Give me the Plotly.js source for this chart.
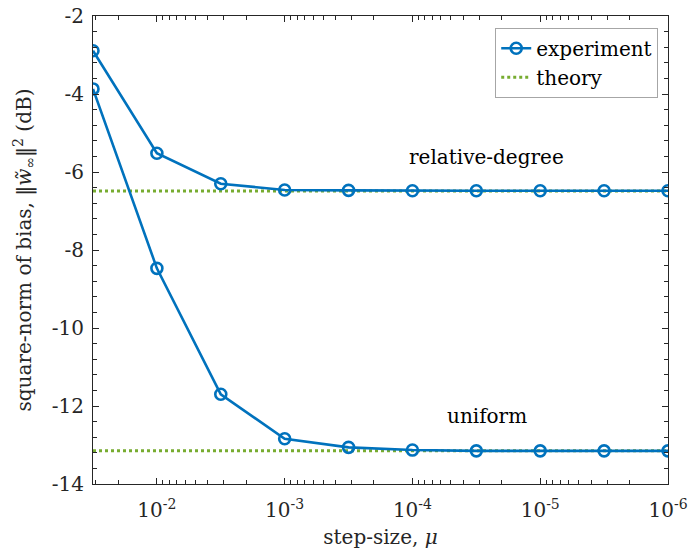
<!DOCTYPE html>
<html>
<head>
<meta charset="utf-8">
<script src="https://cdn.plot.ly/plotly-3.0.1.min.js"></script>
<style>html,body{margin:0;padding:0;background:#fff;}#plot{width:694px;height:560px;}</style>
</head>
<body>
<div id="plot"></div>
<script>
// step sizes (mu)
var mu = [Math.pow(10,-1.5), 1e-2, Math.pow(10,-2.5), 1e-3, Math.pow(10,-3.5), 1e-4, Math.pow(10,-4.5), 1e-5, Math.pow(10,-5.5), 1e-6];
// experiment: relative-degree
var expRelDeg = [-2.89, -5.52, -6.30, -6.46, -6.47, -6.48, -6.48, -6.48, -6.48, -6.48];
// experiment: uniform
var expUniform = [-3.87, -8.47, -11.70, -12.84, -13.06, -13.13, -13.15, -13.15, -13.15, -13.15];
// theory levels
var theoryRelDeg = -6.49;
var theoryUniform = -13.15;
// ticks
var xTickVals = [1e-2, 1e-3, 1e-4, 1e-5, 1e-6];
var xTickText = ['10<sup>-2</sup>', '10<sup>-3</sup>', '10<sup>-4</sup>', '10<sup>-5</sup>', '10<sup>-6</sup>'];
var xMinorMant = [2, 3, 4, 5, 6, 7, 8, 9];
var xMinorDecades = [1e-2, 1e-3, 1e-4, 1e-5, 1e-6];
var yTickVals = [-2, -4, -6, -8, -10, -12, -14];
var yTickText = ['-2', '-4', '-6', '-8', '-10', '-12', '-14'];
var labels = {rel: 'relative-degree', uni: 'uniform', exp: 'experiment', th: 'theory'};

var xMinorVals = [];
xMinorDecades.forEach(function(d){ xMinorMant.forEach(function(m){ xMinorVals.push(m*d); }); });

var blue = '#0072BD', green = '#77AC30';
var font = "'DejaVu Serif', serif";

var expStyle = {
  mode: 'lines+markers',
  line: {color: blue, width: 2.6},
  marker: {symbol: 'circle-open', size: 11, color: blue, line: {width: 2.6, color: blue}}
};
var thStyle = {mode: 'lines', line: {color: green, width: 3, dash: 'dot'}};

var traces = [
  Object.assign({x: mu, y: mu.map(function(){return theoryRelDeg;}), name: labels.th, showlegend: true, legendrank: 2}, thStyle),
  Object.assign({x: mu, y: mu.map(function(){return theoryUniform;}), name: labels.th, showlegend: false}, thStyle),
  Object.assign({x: mu, y: expRelDeg, name: labels.exp, showlegend: true, legendrank: 1}, expStyle),
  Object.assign({x: mu, y: expUniform, name: labels.exp, showlegend: false}, expStyle)
];

var layout = {
  width: 694, height: 560,
  margin: {l: 93, r: 26, t: 16, b: 76, pad: 0},
  paper_bgcolor: '#fff', plot_bgcolor: '#fff',
  font: {family: font, size: 20, color: '#262626'},
  showlegend: true,
  legend: {
    x: 0.983, y: 0.975, xanchor: 'right', yanchor: 'top',
    bgcolor: '#fff', bordercolor: '#a6a6a6', borderwidth: 1,
    font: {family: font, size: 20, color: '#000'},
    traceorder: 'normal', tracegroupgap: 0, itemwidth: 30
  },
  xaxis: {
    type: 'log', range: [-1.5, -6],
    tickmode: 'array', tickvals: xTickVals, ticktext: xTickText,
    ticks: 'inside', ticklen: 6, tickwidth: 1, tickcolor: '#262626',
    showline: true, linecolor: '#262626', linewidth: 1, mirror: 'allticks',
    showgrid: false, zeroline: false, ticklabelstandoff: 8,
    tickfont: {family: font, size: 20, color: '#262626'},
    minor: {ticks: 'inside', ticklen: 4, tickwidth: 1, tickcolor: '#262626', tickmode: 'array', tickvals: xMinorVals, showgrid: false},
    title: {text: 'step-size, <i>μ</i>', font: {family: font, size: 20, color: '#262626'}, standoff: 8}
  },
  yaxis: {
    range: [-14, -2],
    tickmode: 'array', tickvals: yTickVals, ticktext: yTickText,
    ticks: 'inside', ticklen: 6, tickwidth: 1, tickcolor: '#262626',
    showline: true, linecolor: '#262626', linewidth: 1, mirror: 'allticks',
    showgrid: false, zeroline: false, ticklabelstandoff: 4,
    tickfont: {family: font, size: 20, color: '#262626'},
    minor: {ticks: 'inside', ticklen: 4, tickwidth: 1, tickcolor: '#262626', tick0: -2, dtick: 0.4, showgrid: false},
    title: {text: 'square-norm of bias, ‖<i>w̃</i><sub>∞</sub>‖<sup>2</sup> (dB)', font: {family: font, size: 20, color: '#262626'}, standoff: 14}
  },
  annotations: [
    {xref: 'paper', yref: 'paper', x: 0.685, y: 0.699, text: labels.rel, showarrow: false,
     font: {family: font, size: 20, color: '#000'}, xanchor: 'center', yanchor: 'middle'},
    {xref: 'paper', yref: 'paper', x: 0.685, y: 0.145, text: labels.uni, showarrow: false,
     font: {family: font, size: 20, color: '#000'}, xanchor: 'center', yanchor: 'middle'}
  ]
};

Plotly.newPlot('plot', traces, layout, {displayModeBar: false, staticPlot: true});
</script>
</body>
</html>
